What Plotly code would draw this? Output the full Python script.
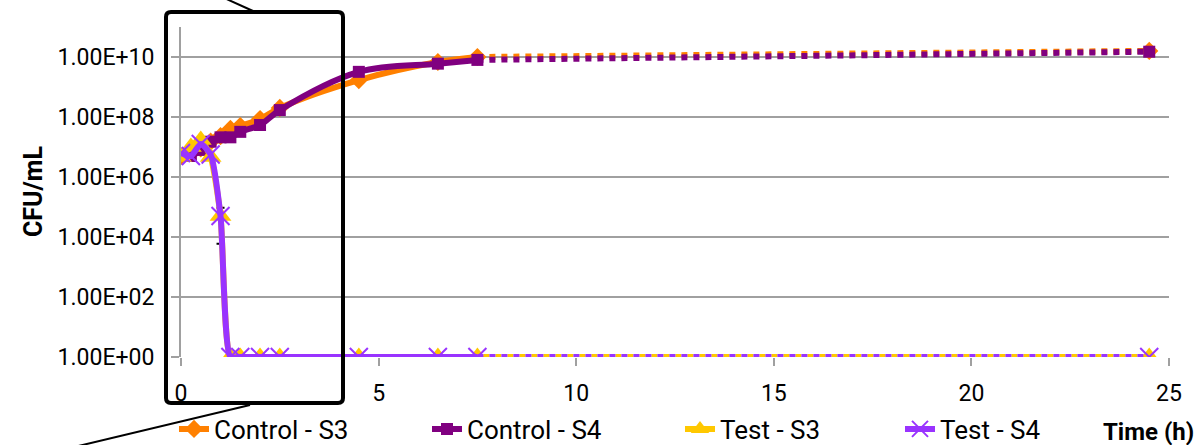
import plotly.graph_objects as go

# ---------------- data ----------------
time_h = [0, 0.25, 0.5, 0.75, 1.0, 1.25, 1.5, 2.0, 2.5, 4.5, 6.5, 7.5]
time_late = [7.5, 24.5]

control_s3 = [5.0e6, 6.5e6, 9.0e6, 1.5e7, 2.3e7, 4.0e7, 5.0e7, 8.5e7, 2.0e8, 1.7e9, 6.8e9, 1.0e10]
control_s4 = [5.5e6, 5.0e6, 8.0e6, 1.5e7, 2.1e7, 2.1e7, 3.2e7, 5.4e7, 1.7e8, 3.2e9, 6.0e9, 8.0e9]
test_s3 = [4.6e6, 1.0e7, 1.7e7, 4.6e6, 5.0e4, 1, 1, 1, 1, 1, 1, 1]
test_s4 = [6.3e6, 5.0e6, 1.26e7, 5.6e6, 5.0e4, 1, 1, 1, 1, 1, 1, 1]

control_s3_24h = 1.6e10
control_s4_24h = 1.5e10
test_s3_24h = 1
test_s4_24h = 1

test_s3_err_t1 = 4.4e4  # error at t = 1 h

series_names = ["Control - S3", "Control - S4", "Test - S3", "Test - S4"]
y_tick_vals = [1, 1e2, 1e4, 1e6, 1e8, 1e10]
y_tick_text = ["1.00E+00", "1.00E+02", "1.00E+04", "1.00E+06", "1.00E+08", "1.00E+10"]
x_tick_vals = [0, 5, 10, 15, 20, 25]

# ---------------- layout helpers (pixel -> paper / container) ----------------
W, H = 1201, 445
L_M, R_M, T_M, B_M = 181, 32, 27, 88
PW, PH = W - L_M - R_M, H - T_M - B_M


def px(x):
    return (x - L_M) / PW


def py(y):
    return (H - B_M - y) / PH


def cx(x):
    return x / W


def cy(y):
    return (H - y) / H


GRID = "#A0A0A0"
FONT = "Roboto"

styles = [
    dict(color="#FF8000", marker=dict(symbol="diamond", size=14, color="#FF8000"), dash="dot", lw=208),
    dict(color="#800080", marker=dict(symbol="square", size=12, color="#800080"), dash="dot", lw=208),
    dict(color="#FFC800", marker=dict(symbol="triangle-up", size=19, color="#FFC800"), dash="0px,6px,6px,0px", lw=175),
    dict(color="#9933FF", marker=dict(symbol="x-thin-open", size=18, color="#9933FF",
                                      line=dict(color="#9933FF", width=2)), dash="dot", lw=0),
]
values = [control_s3, control_s4, test_s3, test_s4]
late = [control_s3_24h, control_s4_24h, test_s3_24h, test_s4_24h]

fig = go.Figure()
for i, name in enumerate(series_names):
    st = styles[i]
    smooth = 1.0 if i < 2 else 0.6
    # dotted segment to 24.5 h
    fig.add_trace(go.Scatter(
        x=time_late, y=[values[i][-1], late[i]], mode="lines",
        line=dict(color=st["color"], width=6, dash=st["dash"]),
        showlegend=False, hoverinfo="skip"))
    # end marker
    fig.add_trace(go.Scatter(
        x=[time_late[-1]], y=[late[i]], mode="markers",
        marker=st["marker"], showlegend=False))
    err = None
    if i == 2:
        err = dict(type="data", array=[0, 0, 0, 0, test_s3_err_t1] + [0] * 7,
                   color="black", thickness=2, width=4, visible=True)
    tr = go.Scatter(
        x=time_h, y=values[i], mode="lines+markers", name=name,
        line=dict(color=st["color"], width=6, shape="spline", smoothing=smooth),
        marker=st["marker"], error_y=err)
    if st["lw"]:
        tr.legendwidth = st["lw"]
    fig.add_trace(tr)

r = 5
x0, x1, y0, y1 = 166, 343, 12, 403
box_path = (
    f"M{px(x0 + r)},{py(y0)} L{px(x1 - r)},{py(y0)} Q{px(x1)},{py(y0)} {px(x1)},{py(y0 + r)} "
    f"L{px(x1)},{py(y1 - r)} Q{px(x1)},{py(y1)} {px(x1 - r)},{py(y1)} "
    f"L{px(x0 + r)},{py(y1)} Q{px(x0)},{py(y1)} {px(x0)},{py(y1 - r)} "
    f"L{px(x0)},{py(y0 + r)} Q{px(x0)},{py(y0)} {px(x0 + r)},{py(y0)} Z"
)

shapes = [
    dict(type="path", xref="paper", yref="paper", path=box_path,
         line=dict(color="black", width=4), layer="above"),
    dict(type="line", xref="paper", yref="paper", x0=px(253), y0=py(11), x1=px(200), y1=py(-13),
         line=dict(color="black", width=2), layer="above"),
    dict(type="line", xref="paper", yref="paper", x0=px(250), y0=py(405), x1=px(70), y1=py(448),
         line=dict(color="black", width=2), layer="above"),
]

annotations = [
    dict(text="<b>CFU/mL</b>", xref="paper", yref="paper", x=px(33), y=py(192),
         textangle=-90, showarrow=False, font=dict(family=FONT, size=25, color="black"),
         xanchor="center", yanchor="middle"),
    dict(text="<b>Time (h)</b>", xref="paper", yref="paper", x=px(1196), y=py(432),
         showarrow=False, font=dict(family=FONT, size=24, color="black"),
         xanchor="right", yanchor="middle"),
]

fig.update_layout(
    width=W, height=H,
    margin=dict(l=L_M, r=R_M, t=T_M, b=B_M, pad=0, autoexpand=False),
    paper_bgcolor="white", plot_bgcolor="white",
    font=dict(family=FONT, color="black"),
    shapes=shapes, annotations=annotations,
    legend=dict(orientation="h", xref="container", yref="container",
                x=cx(174), xanchor="left", y=cy(429), yanchor="middle",
                font=dict(family=FONT, size=26, color="black"), bgcolor="rgba(0,0,0,0)",
                itemwidth=30, tracegroupgap=0),
    xaxis=dict(range=[0, 25], tickvals=x_tick_vals, ticks="outside", ticklen=8, tickwidth=2,
               tickcolor=GRID, showgrid=False, zeroline=False, showline=False, automargin=False,
               tickfont=dict(family=FONT, size=23, color="black"), ticklabelstandoff=7),
    yaxis=dict(type="log", range=[0, 11], tickvals=y_tick_vals, ticktext=y_tick_text,
               ticks="outside", ticklen=8, tickwidth=2, tickcolor=GRID, automargin=False,
               showgrid=True, gridcolor=GRID, gridwidth=2, zeroline=False,
               showline=True, linecolor=GRID, linewidth=2,
               tickfont=dict(family=FONT, size=23, color="black"), ticklabelstandoff=12),
)

fig.write_html("out.html", config={"displayModeBar": False},
               post_script="document.body.style.margin='0px';")
